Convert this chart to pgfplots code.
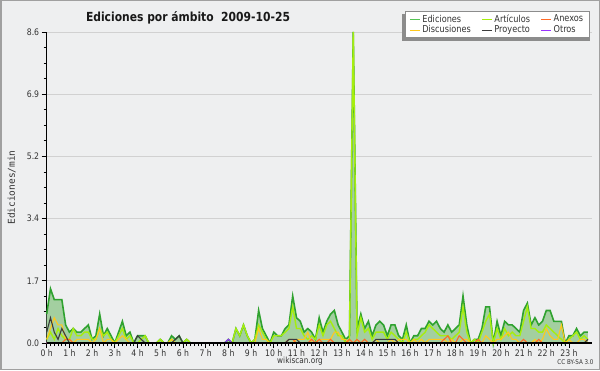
\documentclass[border=0pt]{standalone}
\usepackage{fontspec}
\setmainfont{DejaVu Sans}
\newfontfamily\condfont[FakeStretch=0.86]{DejaVu Sans}
\newfontfamily\monofont{DejaVu Sans Mono}
\usepackage{pgfplots}
\usepackage{pgfplotstable}
\pgfplotsset{compat=1.18}
\definecolor{bg}{HTML}{EEEFF0}
\definecolor{frame}{HTML}{A0A0A0}
\definecolor{shadow}{HTML}{8C8C8C}
\definecolor{edline}{HTML}{2FA22F}
\definecolor{edfill}{HTML}{A3CFA0}
\definecolor{edleg}{HTML}{55C455}
\definecolor{art}{HTML}{A6EE0E}
\definecolor{disc}{HTML}{FFC81E}
\definecolor{anex}{HTML}{FF6A28}
\definecolor{proy}{HTML}{3C3C3C}
\definecolor{otros}{HTML}{9933FF}
\definecolor{txt}{HTML}{333333}
\pgfplotstableread{
i T A D X P O
0 0.8 0.1 0.1 0 0.3 0
1 1.5 0.3 0.4 0 0.7 0
2 1.2 0.1 0.7 0 0.3 0
3 1.2 0.4 0.5 0 0.1 0
4 1.2 0.2 0.5 0 0.4 0
5 0.5 0.1 0.1 0.1 0.2 0
6 0.3 0.1 0.1 0.1 0 0
7 0.4 0.4 0 0 0 0
8 0.3 0.2 0.1 0 0 0
9 0.3 0.2 0.1 0 0 0
10 0.4 0.3 0.1 0 0 0
11 0.5 0.3 0.1 0 0 0
12 0.1 0.1 0 0 0 0
13 0.2 0.1 0.1 0 0 0
14 0.8 0.4 0.4 0 0 0
15 0.2 0.2 0 0 0 0
16 0.4 0.3 0.1 0 0 0
17 0.2 0.1 0.1 0 0 0
18 0 0 0 0 0 0
19 0.3 0.2 0.1 0 0 0
20 0.6 0.4 0.2 0 0 0
21 0.2 0.1 0.1 0 0 0
22 0.3 0.2 0 0 0 0
23 0 0 0 0 0 0
24 0.2 0 0 0 0.2 0
25 0.2 0.1 0 0 0.1 0
26 0.2 0.2 0 0 0 0
27 0 0 0 0 0 0
28 0 0 0 0 0 0
29 0 0 0 0 0 0
30 0.1 0.1 0 0 0 0
31 0 0 0 0 0 0
32 0 0 0 0 0 0
33 0.2 0.1 0.1 0 0 0
34 0.1 0 0 0 0.1 0
35 0.2 0 0 0 0.2 0
36 0 0 0 0 0 0
37 0.1 0.1 0 0 0 0
38 0 0 0 0 0 0
39 0 0 0 0 0 0
40 0 0 0 0 0 0
41 0 0 0 0 0 0
42 0 0 0 0 0 0
43 0 0 0 0 0 0
44 0 0 0 0 0 0
45 0 0 0 0 0 0
46 0 0 0 0 0 0
47 0 0 0 0 0 0
48 0.1 0 0 0 0 0.1
49 0 0 0 0 0 0
50 0.4 0.4 0 0 0 0
51 0.2 0.2 0 0 0 0
52 0.5 0.5 0 0 0 0
53 0.2 0.2 0 0 0 0
54 0 0 0 0 0 0
55 0.1 0.1 0 0 0 0
56 0.9 0.5 0.4 0 0 0
57 0.4 0.3 0.1 0 0 0
58 0.2 0.1 0.1 0 0 0
59 0 0 0 0 0 0
60 0.3 0.2 0 0 0 0
61 0.2 0.2 0 0 0 0
62 0.2 0.2 0 0 0 0
63 0.4 0.3 0 0 0 0
64 0.5 0.4 0 0.1 0.1 0
65 1.3 1.0 0 0.1 0.1 0
66 0.7 0.4 0.1 0 0.1 0
67 0.6 0.4 0.1 0 0 0
68 0.3 0.2 0.1 0 0 0
69 0.4 0.1 0.3 0 0 0
70 0.3 0.2 0 0.1 0 0
71 0.1 0.1 0 0 0 0
72 0.7 0.5 0.1 0.1 0 0
73 0.3 0.2 0.1 0 0 0
74 0.6 0.5 0.1 0 0 0
75 0.8 0.6 0.1 0.1 0 0
76 0.9 0.4 0.3 0 0 0
77 0.5 0.2 0.3 0 0 0
78 0.3 0.2 0.1 0 0 0
79 0.1 0 0.1 0 0 0
80 0.2 0.1 0 0.1 0 0
81 8.6 8.6 0 0 0 0
82 0.4 0.2 0 0.1 0 0
83 0.8 0.7 0 0 0 0
84 0.4 0.3 0 0.1 0 0
85 0.6 0.4 0 0 0 0
86 0.2 0.1 0 0 0 0
87 0.5 0.3 0.1 0 0.1 0
88 0.6 0.3 0 0 0.1 0
89 0.5 0.3 0 0 0.1 0
90 0.2 0.1 0 0 0.1 0
91 0.5 0.3 0.1 0 0.1 0
92 0.5 0.2 0 0 0.1 0
93 0.2 0.1 0.1 0 0 0
94 0.1 0 0.1 0 0 0
95 0.5 0.3 0.1 0 0 0
96 0 0 0 0 0 0
97 0.2 0.1 0.1 0 0 0
98 0.2 0.1 0 0 0 0
99 0.4 0.2 0.1 0 0 0
100 0.4 0.3 0 0 0 0
101 0.6 0.5 0.1 0 0 0
102 0.5 0.4 0.1 0 0 0
103 0.6 0.3 0.1 0 0 0
104 0.4 0.2 0.1 0 0 0
105 0.3 0.2 0.1 0.1 0 0
106 0.5 0.2 0 0.2 0 0
107 0.3 0.1 0.1 0 0 0
108 0.4 0.2 0 0 0 0
109 0.5 0.3 0 0.2 0 0
110 1.3 1.0 0.1 0.1 0 0
111 0.5 0.3 0.1 0 0 0
112 0 0 0 0 0 0
113 0.1 0.1 0 0 0 0
114 0.1 0 0 0.1 0 0
115 0.4 0.3 0 0 0 0
116 1.0 0.6 0.2 0 0 0
117 1.0 0.8 0.1 0 0 0
118 0 0 0 0 0 0
119 0.6 0.4 0.1 0 0 0
120 0.2 0.1 0.1 0 0 0
121 0.6 0.4 0.2 0 0 0
122 0.5 0.2 0.3 0 0 0
123 0.5 0.3 0.1 0 0 0
124 0.4 0.2 0.1 0 0 0
125 0.3 0.2 0 0 0 0
126 0.9 0.6 0 0.1 0 0
127 1.1 1.0 0 0 0 0
128 0.5 0.4 0 0 0 0
129 0.7 0.4 0.1 0 0 0
130 0.5 0.3 0 0.1 0 0
131 0.6 0.3 0.1 0 0 0
132 0.9 0.5 0.4 0 0 0
133 0.9 0.4 0.2 0 0 0
134 0.6 0.3 0.1 0 0 0
135 0.6 0.2 0.1 0 0 0
136 0.6 0.1 0.5 0 0 0
137 0 0 0 0 0 0
138 0.2 0.1 0.1 0 0 0
139 0.2 0.2 0 0 0 0
140 0.4 0.3 0 0 0 0
141 0.2 0.1 0.1 0 0 0
142 0.3 0.2 0.1 0 0 0
143 0.3 0.1 0 0 0.1 0
}\data
\begin{document}
\begin{tikzpicture}[x=1pt,y=1pt]
\fill[bg] (0,0) rectangle (600,370);
\draw[frame, line width=1.5pt] (0.75,0.75) rectangle (599.25,369.25);
\useasboundingbox (0,0) rectangle (600,370);
\begin{axis}[
  at={(46.7pt,27pt)}, anchor=south west,
  scale only axis, width=545pt, height=311pt,
  xmin=0, xmax=144, ymin=0, ymax=8.6,
  axis x line*=bottom, axis y line*=left,
  axis line style={black, line width=1.4pt},
  every tick/.style={black, line width=0.9pt},
  tick align=outside,
  major tick length=5pt, minor tick length=3pt,
  xtick={0,6,...,138},
  xticklabels={0 h,1 h,2 h,3 h,4 h,5 h,6 h,7 h,8 h,9 h,10 h,11 h,12 h,13 h,14 h,15 h,16 h,17 h,18 h,19 h,20 h,21 h,22 h,23 h},
  minor x tick num=5,
  ytick={0,1.72,3.44,5.16,6.88,8.6},
  yticklabels={0.0,1.7,3.4,5.2,6.9,8.6},
  minor y tick num=3,
  ymajorgrids, grid style={black!18, line width=0.8pt},
  tick label style={font=\condfont\fontsize{9}{10}\selectfont, text=txt},
  xticklabel style={yshift=2pt},
  yticklabel style={xshift=1pt},
  ylabel={\monofont Ediciones/min},
  ylabel style={at={(axis description cs:-0.064,0.5)}, anchor=center, font=\fontsize{9.5}{11}\selectfont, text=txt},
  legend columns=3,
  legend cell align=left,
  legend style={at={(axis description cs:0.6574,1.0675)}, anchor=north west,
    draw=black!45, fill=white, line width=0.6pt,
    font=\condfont\fontsize{9.5}{10}\selectfont, text=txt,
    inner xsep=4pt, inner ysep=1.3pt, row sep=-2pt,
    /tikz/every even column/.append style={column sep=8.5pt}},
  legend image code/.code={\draw[#1, line width=1.1pt] (0pt,0pt) -- (10pt,0pt);},
  clip=false,
]
\addplot[fill=edfill, draw=none, forget plot] table[x=i,y=T] {\data} \closedcycle;
\addplot[edline, line width=1.6pt, forget plot] table[x=i,y=T] {\data};
\addplot[art, line width=1.4pt, forget plot] table[x=i,y=A] {\data};
\addplot[disc, line width=1.1pt, forget plot] table[x=i,y=D] {\data};
\addplot[anex, line width=1.1pt, forget plot] table[x=i,y=X] {\data};
\addplot[proy, line width=1.1pt, forget plot] table[x=i,y=P] {\data};
\addplot[otros, line width=1.1pt, forget plot] table[x=i,y=O] {\data};
\draw[black, line width=1.4pt] (axis cs:0,0) -- (axis cs:144,0);
\addlegendimage{color=edleg}\addlegendentry{Ediciones}
\addlegendimage{color=art}\addlegendentry{Artículos}
\addlegendimage{color=anex}\addlegendentry{Anexos}
\addlegendimage{color=disc}\addlegendentry{Discusiones}
\addlegendimage{color=proy}\addlegendentry{Proyecto}
\addlegendimage{color=otros}\addlegendentry{Otros}
\end{axis}
\begin{scope}[on background layer/.try]
\end{scope}
\fill[shadow] (401.5,329) rectangle (404.5,356);
\fill[shadow] (401.5,329) rectangle (589.5,332.2);
\node[font=\bfseries\condfont\fontsize{12.5}{14}\selectfont, text=black!90] at (188,352.5) {\textbf{Ediciones por ámbito\ \ 2009-10-25}};
\node[font=\condfont\fontsize{8.5}{10}\selectfont, text=txt] at (300,8.5) {wikiscan.org};
\node[font=\condfont\fontsize{6.5}{7}\selectfont, text=txt] at (575.5,7.5) {CC BY-SA 3.0};
\end{tikzpicture}
\end{document}
